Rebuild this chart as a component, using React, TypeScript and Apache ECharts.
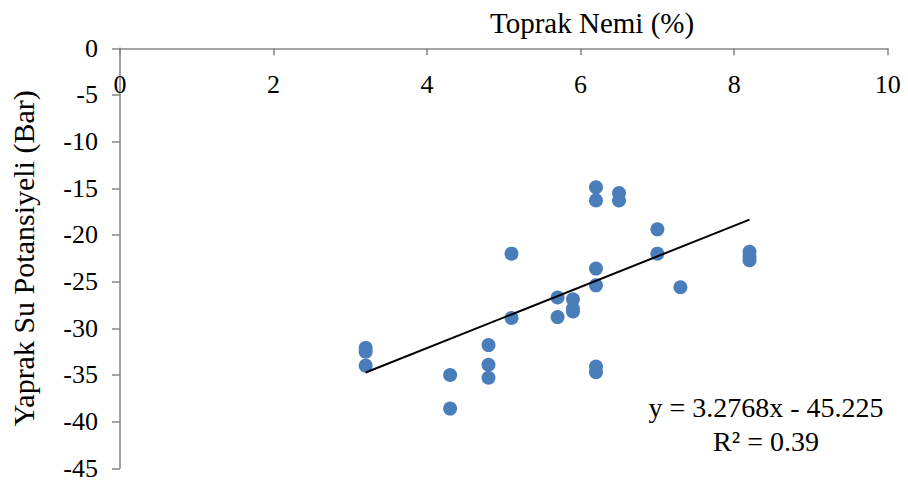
import React, { useEffect, useRef } from "react";
import * as echarts from "echarts";

const xVals = [3.2, 3.2, 3.2, 4.3, 4.3, 4.8, 4.8, 4.8, 5.1, 5.1, 5.7, 5.7, 5.9, 5.9, 5.9, 6.2, 6.2, 6.2, 6.2, 6.2, 6.2, 6.5, 6.5, 7.0, 7.0, 7.3, 8.2, 8.2, 8.2];
const yVals = [-32.1, -32.5, -34.0, -35.0, -38.6, -31.8, -33.9, -35.3, -22.0, -28.9, -26.7, -28.8, -26.9, -27.9, -28.2, -14.9, -16.3, -23.6, -25.4, -34.1, -34.7, -15.5, -16.3, -19.4, -22.0, -25.6, -21.8, -22.3, -22.7];
const trendSlope = 3.2768;
const trendIntercept = -45.225;
const trendRange = [3.2, 8.2];
const equationLines = ["y = 3.2768x - 45.225", "R² = 0.39"];
const xTitle = "Toprak Nemi (%)";
const yTitle = "Yaprak Su Potansiyeli (Bar)";

const FONT = "Liberation Serif";

export default function App() {
  const ref = useRef<HTMLDivElement>(null);
  useEffect(() => {
    if (!ref.current) return;
    const chart = echarts.init(ref.current, null, { renderer: "svg" });
    const points = xVals.map((x, i) => [x, yVals[i]]);
    const trend = trendRange.map((x) => [x, trendSlope * x + trendIntercept]);
    chart.setOption({
      animation: false,
      backgroundColor: "#ffffff",
      textStyle: { fontFamily: FONT, color: "#000" },
      title: {
        text: xTitle,
        left: 485,
        top: 3,
        textStyle: { fontFamily: FONT, fontSize: 29, fontWeight: "normal", color: "#000" },
      },
      grid: { left: 110.7, right: 20.3, top: 48.3, bottom: 15.7, containLabel: false },
      xAxis: {
        type: "value",
        position: "top",
        min: 0,
        max: 10,
        interval: 2,
        axisLine: { onZero: false, lineStyle: { color: "#868686", width: 1.5 } },
        axisTick: { show: true, inside: true, length: 7, lineStyle: { color: "#868686", width: 1.5 } },
        axisLabel: { inside: true, margin: 23, fontFamily: FONT, fontSize: 26, color: "#000" },
        splitLine: { show: false },
      },
      yAxis: {
        type: "value",
        min: -45,
        max: 0,
        interval: 5,
        name: yTitle,
        nameLocation: "middle",
        nameRotate: 90,
        nameGap: 82,
        nameTextStyle: { fontFamily: FONT, fontSize: 30, color: "#000" },
        axisLine: { onZero: false, lineStyle: { color: "#868686", width: 1.5 } },
        axisTick: { show: true, length: 8, lineStyle: { color: "#868686", width: 1.5 } },
        axisLabel: { margin: 22, fontFamily: FONT, fontSize: 26, color: "#000" },
        splitLine: { show: false },
      },
      graphic: [
        {
          type: "text",
          x: 766,
          y: 390,
          style: {
            text: equationLines.join("\n"),
            textAlign: "center",
            textVerticalAlign: "top",
            fontFamily: FONT,
            fontSize: 28,
            lineHeight: 34,
            fill: "#000",
          },
        },
      ],
      series: [
        {
          type: "scatter",
          data: points,
          symbol: "circle",
          symbolSize: 14,
          itemStyle: { color: "#4A7EBB", opacity: 1 },
          z: 3,
        },
        {
          type: "line",
          data: trend,
          symbol: "none",
          lineStyle: { color: "#000", width: 2 },
          z: 4,
        },
      ],
    });
    return () => chart.dispose();
  }, []);
  return (
    <div
      ref={ref}
      style={{ position: "absolute", left: 0, top: 0, width: 908, height: 484 }}
    />
  );
}
